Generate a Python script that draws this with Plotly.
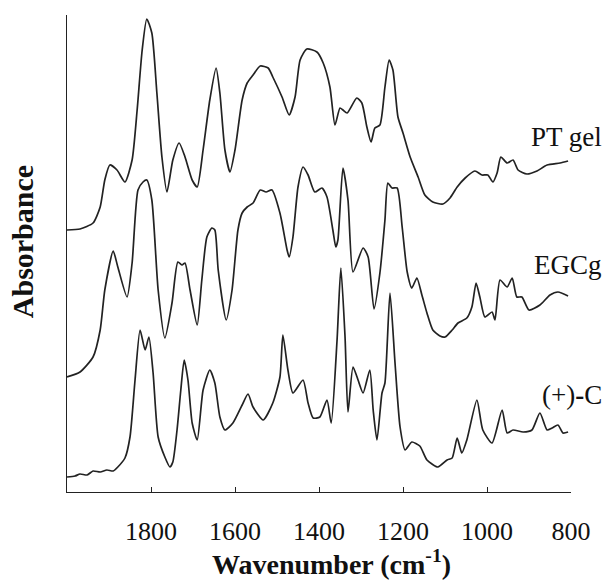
import plotly.graph_objects as go

# Wavenumber (cm-1) and absorbance (arbitrary units, offset spectra)
pt_gel_wn = [2000, 1969, 1938, 1921, 1910, 1898, 1881, 1862, 1845, 1833, 1821, 1810, 1798, 1786, 1774,
             1762, 1748, 1733, 1719, 1702, 1690, 1676, 1660, 1645, 1636, 1624, 1612, 1600, 1583, 1571,
             1557, 1540, 1521, 1510, 1488, 1471, 1457, 1445, 1429, 1405, 1390, 1374, 1362, 1350, 1343,
             1333, 1310, 1298, 1286, 1276, 1267, 1255, 1243, 1233, 1224, 1212, 1200, 1183, 1164, 1148,
             1129, 1105, 1088, 1071, 1052, 1029, 1012, 998, 986, 976, 967, 952, 938, 926, 905, 881,
             857, 826, 807]
pt_gel_abs = [2.62, 2.63, 2.69, 2.85, 3.12, 3.27, 3.22, 3.10, 3.32, 3.82, 4.42, 4.73, 4.59, 3.99, 3.35,
              3.00, 3.32, 3.49, 3.35, 3.12, 3.05, 3.42, 3.92, 4.24, 3.99, 3.42, 3.20, 3.42, 3.92, 4.09,
              4.17, 4.26, 4.24, 4.15, 3.95, 3.77, 3.95, 4.32, 4.43, 4.40, 4.29, 4.05, 3.67, 3.84, 3.82,
              3.79, 3.94, 3.89, 3.65, 3.50, 3.64, 3.67, 4.05, 4.32, 4.22, 3.75, 3.59, 3.35, 3.15, 2.97,
              2.90, 2.88, 2.94, 3.05, 3.14, 3.21, 3.17, 3.17, 3.10, 3.19, 3.35, 3.29, 3.32, 3.22, 3.18, 3.21,
              3.27, 3.29, 3.31]

egcg_wn = [2000, 1969, 1938, 1921, 1910, 1890, 1879, 1857, 1845, 1831, 1819, 1810, 1798, 1783, 1767,
           1750, 1736, 1726, 1719, 1707, 1690, 1679, 1667, 1655, 1648, 1640, 1621, 1607, 1593, 1583,
           1571, 1557, 1540, 1526, 1512, 1493, 1476, 1471, 1462, 1450, 1438, 1426, 1410, 1393, 1381,
           1367, 1360, 1355, 1343, 1331, 1319, 1295, 1283, 1269, 1255, 1243, 1236, 1226, 1214, 1202,
           1190, 1179, 1167, 1155, 1143, 1129, 1112, 1100, 1083, 1069, 1048, 1036, 1026, 1017, 1005,
           988, 981, 969, 952, 940, 929, 917, 900, 874, 850, 831, 807]
egcg_abs = [1.15, 1.20, 1.35, 1.62, 2.02, 2.41, 2.25, 1.95, 2.29, 3.02, 3.10, 3.12, 2.92, 2.02, 1.54,
            1.89, 2.30, 2.27, 2.29, 2.02, 1.67, 2.12, 2.55, 2.64, 2.62, 2.22, 1.72, 2.02, 2.62, 2.79,
            2.85, 2.89, 3.02, 3.00, 3.02, 2.79, 2.42, 2.35, 2.55, 3.05, 3.25, 3.17, 3.00, 3.04, 2.95,
            2.62, 2.45, 2.52, 3.24, 2.92, 2.20, 2.44, 2.35, 1.83, 2.19, 2.72, 3.09, 3.04, 3.04, 2.65,
            2.20, 2.04, 2.14, 1.97, 1.79, 1.62, 1.56, 1.55, 1.62, 1.69, 1.74, 1.85, 2.09, 1.95, 1.75,
            1.80, 1.72, 2.12, 2.05, 2.14, 1.95, 1.95, 1.82, 1.87, 1.97, 2.00, 1.96]

catechin_wn = [2000, 1981, 1969, 1952, 1938, 1921, 1905, 1890, 1879, 1862, 1850, 1838, 1826, 1814, 1805,
               1795, 1783, 1767, 1755, 1748, 1738, 1729, 1721, 1712, 1702, 1690, 1676, 1660, 1648, 1636,
               1624, 1605, 1583, 1569, 1557, 1533, 1510, 1493, 1486, 1474, 1462, 1438, 1426, 1414, 1398,
               1381, 1371, 1357, 1348, 1338, 1331, 1319, 1307, 1295, 1279, 1271, 1262, 1250, 1243, 1231,
               1219, 1207, 1195, 1179, 1160, 1143, 1117, 1095, 1083, 1071, 1060, 1048, 1024, 1010, 988,
               964, 952, 938, 914, 893, 874, 857, 845, 831, 819, 807]
catechin_abs = [0.15, 0.16, 0.18, 0.17, 0.21, 0.20, 0.22, 0.21, 0.25, 0.34, 0.55, 1.12, 1.62, 1.42, 1.55,
                1.19, 0.55, 0.35, 0.25, 0.30, 0.62, 1.02, 1.32, 1.12, 0.69, 0.52, 1.02, 1.22, 1.09, 0.75,
                0.62, 0.69, 0.87, 0.98, 0.85, 0.72, 0.89, 1.15, 1.57, 1.22, 0.99, 1.12, 0.89, 0.74, 0.75,
                0.92, 0.69, 1.52, 2.24, 1.55, 0.80, 1.25, 1.12, 0.99, 1.22, 0.82, 0.52, 0.99, 1.09, 1.99,
                1.29, 0.65, 0.42, 0.50, 0.46, 0.32, 0.25, 0.32, 0.34, 0.54, 0.39, 0.52, 0.92, 0.62, 0.49,
                0.82, 0.59, 0.62, 0.60, 0.62, 0.79, 0.62, 0.64, 0.67, 0.59, 0.60]

series_names = ["PT gel", "EGCg", "(+)<b>-</b>C"]
label_y = [3.55, 2.27, 0.97]
tick_vals = [1800, 1600, 1400, 1200, 1000, 800]

serif = "Liberation Serif, Times New Roman, serif"
line_color = "#222222"

fig = go.Figure()
for wn, ab in [(pt_gel_wn, pt_gel_abs), (egcg_wn, egcg_abs), (catechin_wn, catechin_abs)]:
    fig.add_trace(go.Scatter(x=wn, y=ab, mode="lines",
                             line=dict(color=line_color, width=1.7, shape="spline", smoothing=0.6),
                             showlegend=False, hoverinfo="skip"))

for name, yv in zip(series_names, label_y):
    fig.add_annotation(x=1.065, xref="paper", y=yv, yref="y", text=name, showarrow=False,
                       xanchor="right", yanchor="middle",
                       font=dict(family=serif, size=27, color="#111111"))

fig.add_annotation(x=0.525, xref="paper", y=-0.189, yref="paper",
                   text="<b>Wavenumber (cm<sup>-1</sup>)</b>", showarrow=False,
                   xanchor="center", yanchor="bottom",
                   font=dict(family=serif, size=28, color="#111111"))
fig.add_annotation(x=-0.088, xref="paper", y=0.525, yref="paper",
                   text="<b>Absorbance</b>", showarrow=False, textangle=-90,
                   xanchor="center", yanchor="middle",
                   font=dict(family=serif, size=30, color="#111111"))

fig.update_layout(
    width=605, height=584,
    margin=dict(l=67, r=34, t=15, b=92),
    paper_bgcolor="white", plot_bgcolor="white",
    xaxis=dict(range=[2000, 800], tickvals=tick_vals, ticks="inside", ticklen=5, tickwidth=1.2,
               tickcolor="#222222", showline=True, linecolor="#222222", linewidth=1.2,
               showgrid=False, zeroline=False, ticklabelstandoff=16,
               tickfont=dict(family=serif, size=26, color="#111111")),
    yaxis=dict(range=[0, 4.77], showticklabels=False, ticks="", showline=True,
               linecolor="#222222", linewidth=1.2, showgrid=False, zeroline=False),
)

fig.write_html("out.html")
